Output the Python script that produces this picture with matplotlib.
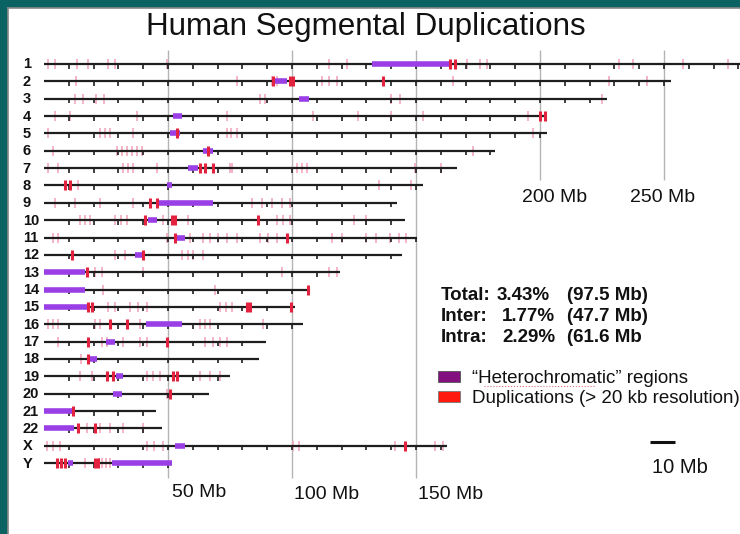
#human segmental duplications - chromosome ideogram style overview
import matplotlib.pyplot as plt
from matplotlib.patches import Rectangle

plt.rcParams['font.family'] = ['Liberation Sans', 'DejaVu Sans']

# chromosome names and lengths (Mb, as drawn)
chroms = ['1', '2', '3', '4', '5', '6', '7', '8', '9', '10', '11', '12',
          '13', '14', '15', '16', '17', '18', '19', '20', '21', '22', 'X', 'Y']
lengths = [290, 252.8, 227, 202, 202.8, 181.9, 166.5, 152.8, 142.3, 145.6, 150.4, 144.4,
           119.4, 106.5, 101.2, 104.4, 89.5, 86.7, 75, 66.5, 45.2, 47.6, 162.5, 51.6]

# "heterochromatic" regions (start, end) in Mb
het = [[(132.3, 163.7)], [(93, 98)], [(103, 107)], [(52, 55.6)], [(51, 55)], [(64, 68)],
       [(58, 62)], [(49.5, 51.5)], [(45.5, 68)], [(42, 45.6)], [(53, 57)], [(36.7, 40)],
       [(0, 16.5)], [(0, 16.5)], [(0, 17.7)], [(41, 55.6)], [(25, 28.6)], [(17.7, 21.4)],
       [(29, 32)], [(28, 31.5)], [(0, 11.7)], [(0, 12)], [(53, 57)], [(9.5, 11.5), (27.4, 51.6)]]

# faint duplication marks (Mb)
dup_faint = [
    [1.6, 4.4, 13.3, 17.7, 25.8, 28.6, 49.6, 115, 122, 170.6, 175.8, 178.6, 232, 237.5, 257.7, 275.8],
    [13, 77.8, 92, 94, 112, 115, 118, 165, 228, 243],
    [12.5, 15.7, 21, 24, 87, 89, 140, 143.5, 225],
    [4.4, 10.5, 37.5, 73.6, 108.5, 126.6, 140, 152.8, 195],
    [1.6, 22.5, 24.5, 26.6, 36, 73.6, 75.5, 77.8, 197],
    [3.6, 29.4, 31.5, 33.5, 35.5, 37.5, 39.5, 173],
    [1.6, 5.6, 32, 34, 36, 45.5, 75, 76, 102, 104, 106, 149.6, 160],
    [13.7, 135, 148],
    [4.4, 12.5, 22.6, 36, 84, 88, 92, 96, 99],
    [14.5, 16.5, 18.5, 28.6, 31, 33.5, 48, 58, 94, 96.5, 99, 125, 130],
    [3.6, 5.6, 49.6, 59, 64, 67, 70, 73.6, 77.8, 87, 90.5, 94, 116, 120, 130, 134, 139.5, 143, 146],
    [28.6, 32.7, 55.6, 58, 60, 64],
    [20.6, 23.3, 40, 96, 115, 118],
    [23.8, 69],
    [25.8, 28.6, 34.7, 38, 41.5, 71, 73.5, 76],
    [1.6, 3.6, 5.6, 20.6, 22.6, 38.7, 63, 65, 67, 88.3],
    [5.6, 23.4, 25.4, 32, 38.7, 41.5, 65, 68, 71, 73.6],
    [15],
    [14.5, 19.4, 41.5, 44, 46.8, 63, 67, 71],
    [49.6],
    [],
    [17.3, 22.6, 26.6, 32, 40],
    [1.2, 3.8, 6.4, 41.5, 44.5, 48, 100.4, 103, 141.5, 157.7, 161],
    [16.5, 22, 23.5, 25, 26.6],
]

# strong duplication marks (Mb)
dup_strong = [
    [163.7, 165.7],
    [92.5, 99, 100.5, 136.7],
    [],
    [200, 202],
    [53.6],
    [66],
    [63, 65, 68],
    [8.5, 10.5],
    [42.7, 45.5],
    [40.7, 51.6, 52.8, 86.3],
    [52.8, 98],
    [11.3, 40],
    [17.3],
    [106.5],
    [17.7, 19.5, 81.8, 83, 99.5],
    [26.6, 33.4],
    [17.7, 49.6],
    [17.7],
    [25.4, 27.8, 52, 53.6],
    [51],
    [11.7],
    [13.7, 20.6],
    [145.6],
    [5.2, 7, 8.5, 20.6, 21.8],
]

# stats
stat_names = ['Total:', 'Inter:', 'Intra:']
stat_pct = ['3.43%', '1.77%', '2.29%']
stat_mb = ['(97.5 Mb)', '(47.7 Mb)', '(61.6 Mb']

grid_low = [50, 100, 150]
grid_high = [200, 250]

purple = '#9a3ee6'
pink = '#f3a2b6'
red = '#e3223f'
ink = '#111111'

fig = plt.figure(figsize=(7.4, 5.34), dpi=100, facecolor='#0a6262')
ax = fig.add_axes([8 / 740, 0, 732 / 740, 526 / 534], facecolor='white')
ax.set_xlim((8 - 44) / 2.48, (740 - 44) / 2.48)
ax.set_ylim(534, 8)
ax.set_xticks([])
ax.set_yticks([])
for s in ['right', 'bottom']:
    ax.spines[s].set_visible(False)
for s in ['left', 'top']:
    ax.spines[s].set_color('#888888')
    ax.spines[s].set_linewidth(1.2)

y0 = 64
dy = 17.35

#grid lines
ax.vlines(grid_low, 50, 478, color='#b4b4b4', lw=1, zorder=1)
ax.vlines(grid_high, 50, 180, color='#b4b4b4', lw=1, zorder=1)

for i in range(len(chroms)):
    y = y0 + i * dy
    L = lengths[i]
    ax.vlines(dup_faint[i], y - 5, y + 5, color=pink, lw=1.1, zorder=2)
    ax.plot([0, L], [y, y], color='#1e1e1e', lw=1.6, zorder=3, solid_capstyle='butt')
    ticks = [t for t in range(10, int(L) + 1, 10)]
    ax.vlines(ticks, y, y + 4.5, color='#1e1e1e', lw=1.2, zorder=3)
    for s, e in het[i]:
        ax.plot([s, e], [y, y], color=purple, lw=4, zorder=4, solid_capstyle='butt')
    ax.vlines(dup_strong[i], y - 5, y + 5, color=red, lw=2.2, zorder=5)
    ax.text(-8.6, y + 0.5, chroms[i], ha='left', va='center', fontsize=10.5,
            fontweight='bold', color=ink)

ax.text(129.6, 27, 'Human Segmental Duplications', ha='center', va='center',
        fontsize=22.6, color=ink)

#scale labels
ax.text(51.6, 497, '50 Mb', ha='left', va='baseline', fontsize=14, color=ink)
ax.text(100.8, 499, '100 Mb', ha='left', va='baseline', fontsize=14, color=ink)
ax.text(150.8, 499, '150 Mb', ha='left', va='baseline', fontsize=14, color=ink)
ax.text(192.7, 202, '200 Mb', ha='left', va='baseline', fontsize=14, color=ink)
ax.text(236.3, 202, '250 Mb', ha='left', va='baseline', fontsize=14, color=ink)

#stats block
pct_x = [182.7, 184.7, 184.7]
for k in range(3):
    yy = 300 + k * 21
    ax.text(160.1, yy, stat_names[k], ha='left', va='baseline', fontsize=13.5,
            fontweight='bold', color=ink)
    ax.text(pct_x[k], yy, stat_pct[k], ha='left', va='baseline',
            fontsize=13.5, fontweight='bold', color=ink)
    ax.text(210.9, yy, stat_mb[k], ha='left', va='baseline', fontsize=13.5,
            fontweight='bold', color=ink)

#legend
ax.add_patch(Rectangle((158.9, 371), 8.8, 11, facecolor='#82107f', edgecolor='#555555',
                       lw=0.6, zorder=5))
ax.add_patch(Rectangle((158.9, 391), 8.8, 11, facecolor='#ff1a10', edgecolor='#777777',
                       lw=0.6, zorder=5))
ax.text(172.6, 383, '\u201cHeterochromatic\u201d regions', ha='left', va='baseline',
        fontsize=13.5, color=ink)
ax.plot([177.6, 222.5], [386, 386], color='#e07080', lw=0.8, ls=':')
ax.text(172.6, 403, 'Duplications (> 20 kb resolution)', ha='left', va='baseline',
        fontsize=13.5, color=ink)

#10 Mb scale bar
ax.plot([244.4, 254.4], [442, 442], color=ink, lw=2.2, solid_capstyle='butt')
ax.text(245.2, 473, '10 Mb', ha='left', va='baseline', fontsize=14.5, color=ink)

fig.savefig('out.png', dpi=100, facecolor=fig.get_facecolor())
